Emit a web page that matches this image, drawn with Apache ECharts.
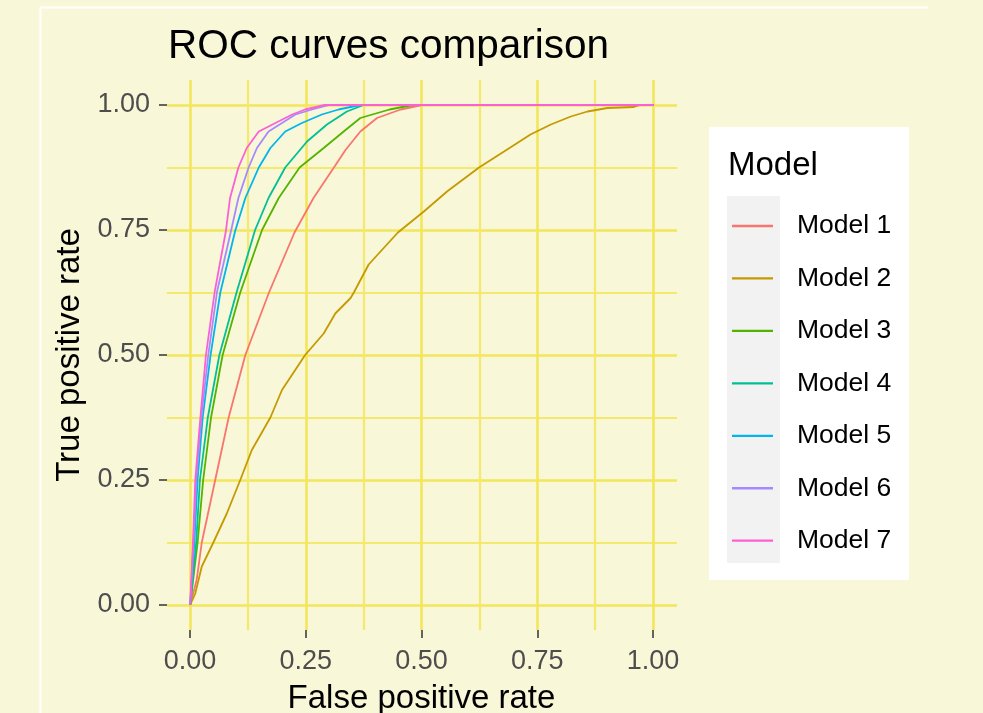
<!DOCTYPE html>
<html><head><meta charset="utf-8">
<script src="https://cdn.jsdelivr.net/npm/echarts@6/dist/echarts.min.js"></script>
<style>html,body{margin:0;padding:0;background:#F8F7D8;}#c{width:983px;height:713px;}</style>
</head><body><div id="c"></div>
<script>
const modelNames = ['Model 1','Model 2','Model 3','Model 4','Model 5','Model 6','Model 7'];
const modelColors = ['#F8766D','#C49A00','#53B400','#00C094','#00B6EB','#A58AFF','#FB61D7'];
const tickValues = [0, 0.25, 0.5, 0.75, 1];

const m1Fpr = [0,0.014,0.025,0.054,0.083,0.119,0.17,0.225,0.266,0.31,0.335,0.367,0.403,0.454,0.5,1];
const m1Tpr = [0,0.05,0.125,0.25,0.375,0.5,0.625,0.745,0.814,0.875,0.91,0.947,0.974,0.991,1,1];

const m2Fpr = [0,0.011,0.025,0.05,0.079,0.108,0.133,0.173,0.198,0.248,0.288,0.313,0.346,0.353,0.385,0.448,0.504,0.554,0.623,0.677,0.734,0.778,0.821,0.857,0.9,0.957,0.97,1];
const m2Tpr = [0,0.023,0.077,0.125,0.183,0.25,0.31,0.375,0.43,0.5,0.543,0.583,0.614,0.625,0.681,0.745,0.787,0.827,0.875,0.907,0.941,0.961,0.977,0.987,0.994,0.996,1,1];

const m3Fpr = [0,0.016,0.028,0.045,0.07,0.108,0.155,0.191,0.236,0.288,0.335,0.367,0.43,0.48,1];
const m3Tpr = [0,0.125,0.25,0.375,0.5,0.625,0.75,0.814,0.875,0.914,0.95,0.974,0.991,1,1];

const m4Fpr = [0,0.013,0.021,0.038,0.063,0.1,0.14,0.169,0.205,0.252,0.295,0.338,0.374,1];
const m4Tpr = [0,0.125,0.25,0.375,0.5,0.625,0.75,0.814,0.875,0.927,0.961,0.987,1,1];

const m5Fpr = [0,0.009,0.016,0.027,0.044,0.065,0.097,0.119,0.148,0.173,0.205,0.241,0.284,0.32,0.367,1];
const m5Tpr = [0,0.125,0.25,0.375,0.5,0.625,0.748,0.814,0.875,0.914,0.947,0.964,0.981,0.991,1,1];

const m6Fpr = [0,0.007,0.013,0.024,0.039,0.058,0.088,0.104,0.126,0.144,0.169,0.198,0.227,0.263,0.3,1];
const m6Tpr = [0,0.125,0.25,0.375,0.5,0.627,0.748,0.814,0.875,0.914,0.947,0.964,0.981,0.991,1,1];

const m7Fpr = [0,0.006,0.011,0.022,0.034,0.053,0.077,0.086,0.104,0.122,0.148,0.184,0.22,0.248,0.29,1];
const m7Tpr = [0,0.125,0.25,0.375,0.5,0.627,0.748,0.814,0.875,0.914,0.947,0.964,0.981,0.991,1,1];

const fprs = [m1Fpr,m2Fpr,m3Fpr,m4Fpr,m5Fpr,m6Fpr,m7Fpr];
const tprs = [m1Tpr,m2Tpr,m3Tpr,m4Tpr,m5Tpr,m6Tpr,m7Tpr];

const FONT = 'Liberation Sans, Arial, sans-serif';
const GRID_MAJOR = '#F3E65A';
const GRID_MINOR = '#F4E96C';

const chart = echarts.init(document.getElementById('c'), null, {renderer:'canvas'});

const series = modelNames.map((name, k) => ({
  name: name,
  type: 'line',
  xAxisIndex: 2,
  yAxisIndex: 2,
  data: fprs[k].map((x, i) => [x, tprs[k][i]]),
  showSymbol: false,
  symbol: 'none',
  smooth: false,
  color: modelColors[k],
  lineStyle: {color: modelColors[k], width: 1.8},
  emphasis: {disabled: true},
  z: 2 + k
}));

const fmt = v => (tickValues.indexOf(v) >= 0 ? v.toFixed(2) : '');
const gridBox = {containLabel: false, outerBoundsMode: 'none'};

chart.setOption({
  animation: false,
  backgroundColor: '#F8F7D8',
  textStyle: {fontFamily: FONT},
  title: {
    text: 'ROC curves comparison',
    left: 168, top: 26, padding: 0,
    textStyle: {fontSize: 40.5, fontWeight: 'normal', color: '#000', fontFamily: FONT}
  },
  grid: [
    Object.assign({left: 190, top: 80, width: 463, height: 550}, gridBox),
    Object.assign({left: 167, top: 105, width: 510, height: 500}, gridBox),
    Object.assign({left: 167, top: 80, width: 510, height: 550}, gridBox),
    Object.assign({left: 190, top: 80, width: 463, height: 605}, gridBox)
  ],
  xAxis: [
    {
      gridIndex: 0, type: 'value', min: 0, max: 1, interval: 0.25,
      position: 'bottom',
      axisLine: {show: false},
      axisTick: {show: false},
      axisLabel: {color: '#4D4D4D', fontSize: 27, margin: 18, formatter: fmt, fontFamily: FONT},
      splitLine: {show: true, lineStyle: {color: GRID_MAJOR, width: 2.6}},
      minorTick: {show: false, splitNumber: 2},
      minorSplitLine: {show: true, lineStyle: {color: GRID_MINOR, width: 2.2}},
      name: 'False positive rate', nameLocation: 'middle', nameGap: 52,
      nameTextStyle: {fontSize: 33, color: '#000', fontFamily: FONT}
    },
    {gridIndex: 1, type: 'value', min: 0, max: 1, show: false},
    {gridIndex: 2, type: 'value', min: -0.05, max: 1.05, show: false},
    {
      gridIndex: 3, type: 'value', min: 0, max: 1, interval: 0.25,
      position: 'bottom', z: 10,
      axisLine: {show: false},
      axisTick: {show: true, length: 8, lineStyle: {color: '#333333', width: 1.5}},
      axisLabel: {show: false},
      splitLine: {show: false}
    }
  ],
  yAxis: [
    {gridIndex: 0, type: 'value', min: 0, max: 1, show: false},
    {
      gridIndex: 1, type: 'value', min: 0, max: 1, interval: 0.25,
      axisLine: {show: false},
      axisTick: {show: true, inside: false, length: 8, lineStyle: {color: '#333333', width: 1.5}},
      axisLabel: {color: '#4D4D4D', fontSize: 27, margin: 17, formatter: fmt, fontFamily: FONT},
      splitLine: {show: true, lineStyle: {color: GRID_MAJOR, width: 2.6}},
      minorTick: {show: false, splitNumber: 2},
      minorSplitLine: {show: true, lineStyle: {color: GRID_MINOR, width: 2.2}},
      name: 'True positive rate', nameLocation: 'middle', nameGap: 74,
      nameTextStyle: {fontSize: 33, color: '#000', fontFamily: FONT}
    },
    {gridIndex: 2, type: 'value', min: -0.05, max: 1.05, show: false},
    {gridIndex: 3, type: 'value', min: -1, max: 10, show: false}
  ],
  legend: {
    orient: 'vertical', left: 732, top: 211,
    padding: 0,
    itemWidth: 41, itemHeight: 2.3, itemGap: 22.45,
    icon: 'rect',
    selectedMode: false,
    data: modelNames,
    textStyle: {fontSize: 26.5, lineHeight: 30, color: '#000', fontFamily: FONT, padding: [0,0,0,19]}
  },
  graphic: [
    {type: 'line', shape: {x1: 40, y1: 7.5, x2: 928, y2: 7.5}, style: {stroke: '#FFFFFF', lineWidth: 2}, silent: true},
    {type: 'line', shape: {x1: 40.5, y1: 7, x2: 40.5, y2: 713}, style: {stroke: '#FFFFFF', lineWidth: 2}, silent: true},
    {type: 'rect', shape: {x: 709, y: 127, width: 200, height: 453}, style: {fill: '#FFFFFF'}, silent: true},
    {type: 'rect', shape: {x: 727, y: 196, width: 53, height: 367}, style: {fill: '#F2F2F2'}, silent: true},
    {type: 'text', x: 728, y: 166, style: {text: 'Model', fontSize: 33, fontFamily: FONT, fill: '#000', textVerticalAlign: 'middle'}, silent: true}
  ],
  series: series
});
</script>
</body></html>
